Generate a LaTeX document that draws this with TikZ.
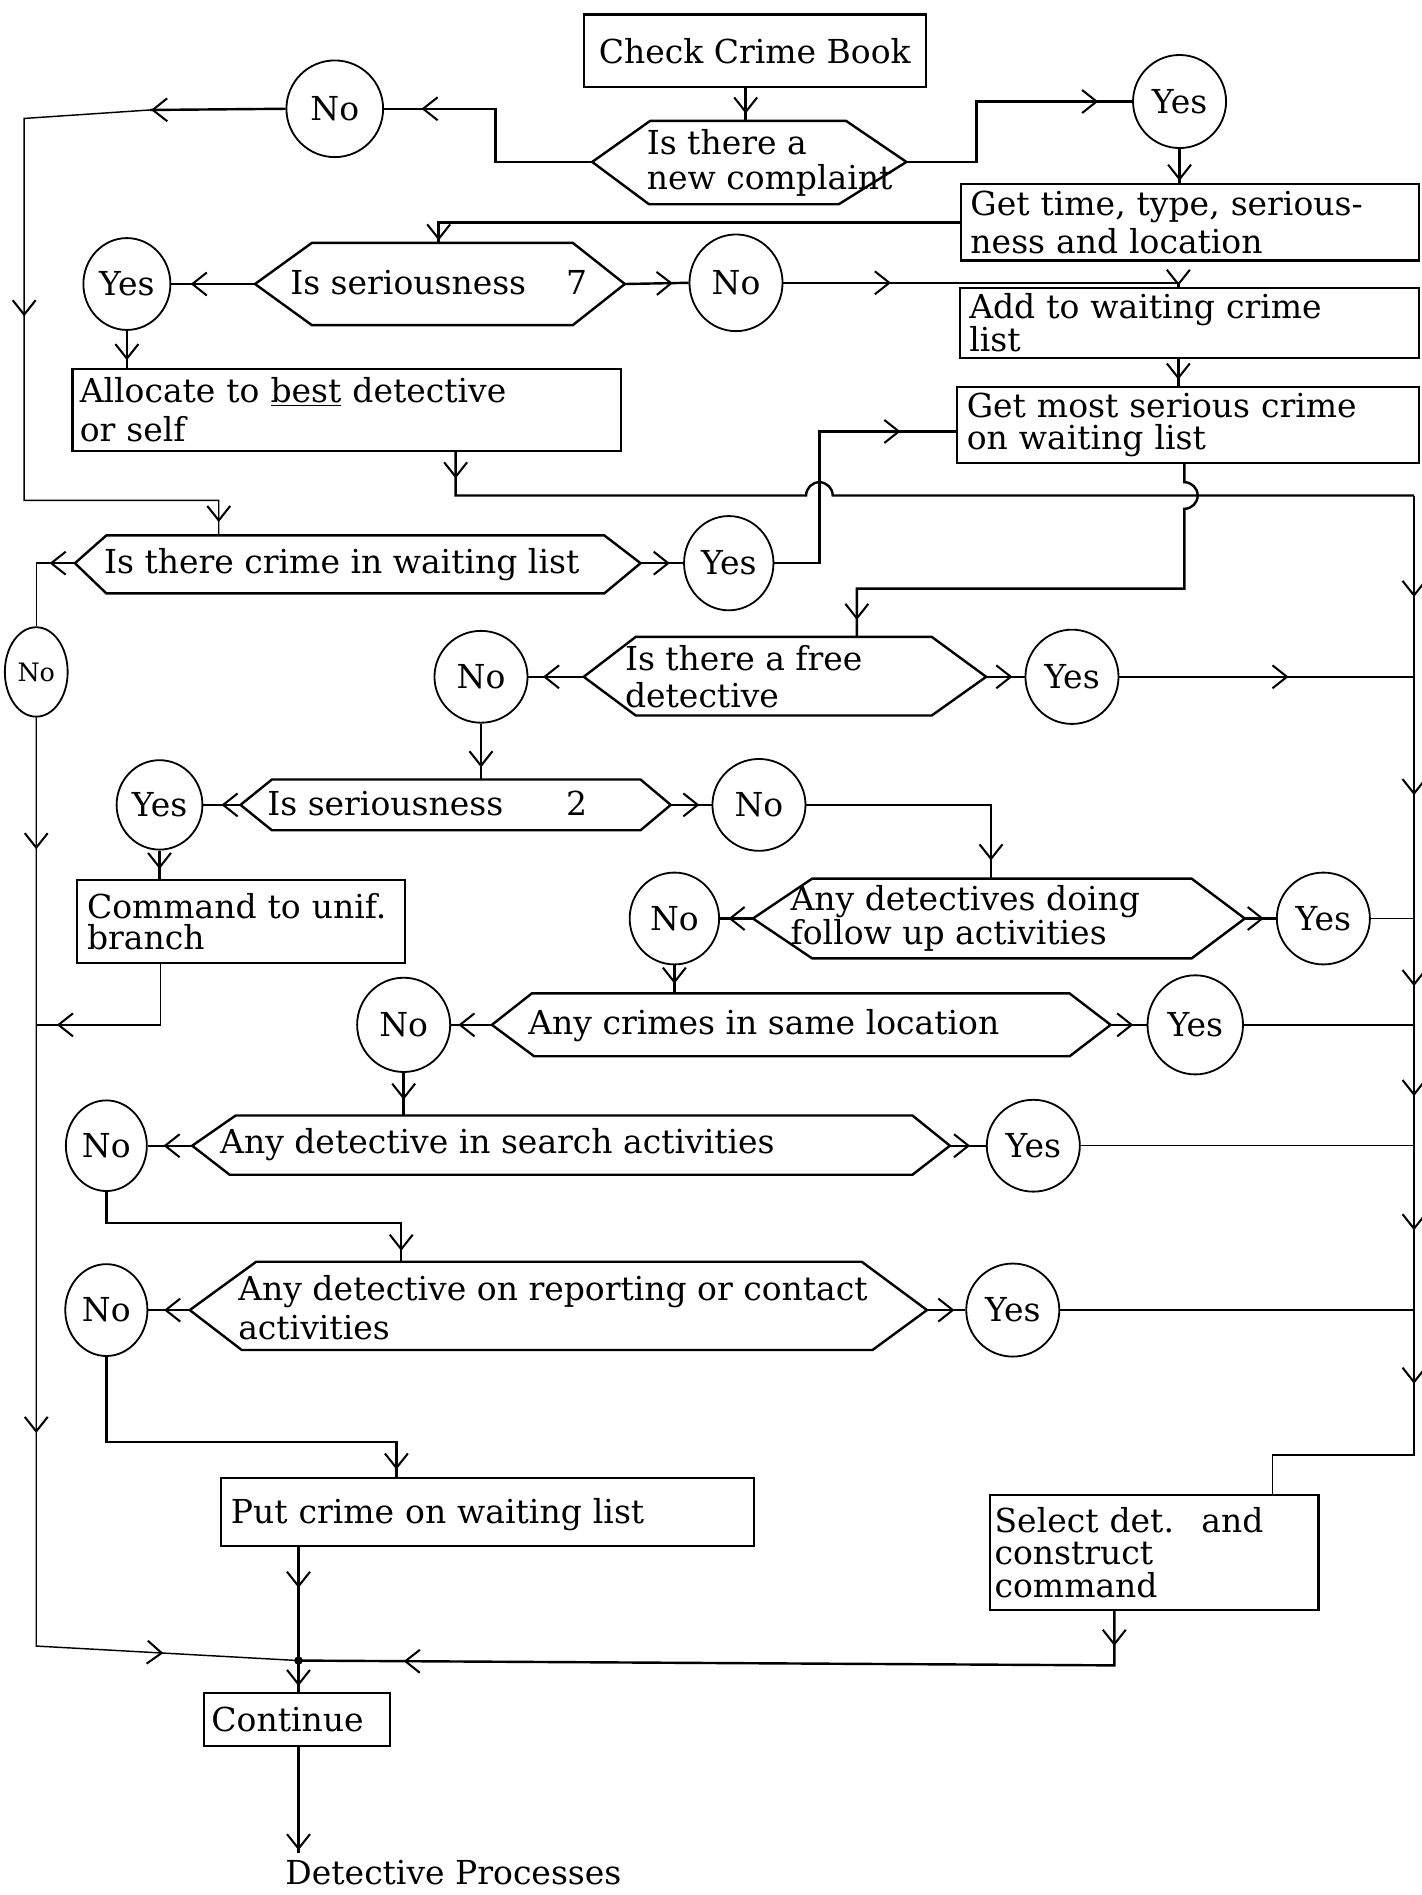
\documentclass[tikz,border=0pt]{standalone}
\usepackage{fontspec}
\setmainfont{DejaVu Serif}
\usetikzlibrary{shapes.geometric,arrows.meta,decorations.markings}
\newcommand\chartfont{\fontsize{27.3}{30}\selectfont}
\newcommand\skipfont[1]{\fontsize{27.3}{#1}\selectfont}
\begin{document}
\begin{tikzpicture}[x=1pt,y=-1pt,
  every node/.style={font=\chartfont, inner sep=0pt},
  conn/.style={line width=2pt},
  bus/.style={line width=1.2pt},
  box/.style={draw, line width=1.8pt, align=left, inner xsep=8pt},
  hexa/.style={draw, line width=2pt},
  ans/.style={ellipse, draw, line width=1.5pt, minimum width=77pt, minimum height=77pt},
  arrowat/.style={postaction={decorate,decoration={markings,
      mark=at position #1 with {\arrow{Straight Barb[length=12pt,width=19pt,line width=1.7pt]}}}}},
]
\fill[white] (0,0) rectangle (1176,1568);
\useasboundingbox (0,0) rectangle (1176,1568);

% ---------- process boxes ----------
\node[box, align=center, minimum width=283pt, minimum height=60pt] (cb) at (624.5,42) {Check Crime Book};
\node[box, text width=363pt, minimum height=63pt, font=\skipfont{32}] (gt) at (984.5,184) {Get time, type, serious-\\ness and location};
\node[box, text width=364pt, minimum height=58pt, font=\skipfont{28}] (aw) at (984,267) {Add to waiting crime\\list};
\node[box, text width=366pt, minimum height=63pt, font=\skipfont{26}] (gm) at (983,351.5) {Get most serious crime\\on waiting list};
\node[box, text width=442pt, minimum height=68pt, inner xsep=6pt, font=\skipfont{32}] (al) at (287,339) {Allocate to \underline{best} detective\\or self};
\node[box, text width=255pt, minimum height=69pt, font=\skipfont{26}] (cu) at (199.5,762.5) {Command to unif.\\branch};
\node[box, text width=425pt, minimum height=56pt, text depth=2pt] (pc) at (403.5,1251) {Put crime on waiting list};
\node[box, text width=264pt, minimum height=95pt, inner xsep=4pt, font=\skipfont{27}] (sd) at (955,1284.5) {Select det.~ and\\construct\\command};
\node[box, text width=142pt, minimum height=44pt, inner xsep=6pt] (co) at (246,1423) {Continue};
\node[anchor=mid west] (dp) at (236,1557) {Detective Processes};

% ---------- decisions ----------
\draw[hexa] (538,100) -- (700,100) -- (750,134) coordinate (q1e) -- (694,169) -- (537,169) -- (490,134) coordinate (q1w) -- cycle;
\node[anchor=west, align=left, font=\skipfont{29}] (q1t) at (535,135) {Is there a\\new complaint};
\coordinate (q1n) at (617,100);

\draw[hexa] (258,201) -- (474,201) -- (517,235) coordinate (s7e) -- (474,269) -- (258,269) -- (211,235) coordinate (s7w) -- cycle;
\node[anchor=mid west] (s7t) at (240,241) {Is seriousness\hspace{33pt}7};
\coordinate (s7n) at (363,201);

\draw[hexa] (88,443) -- (500,443) -- (530,466) coordinate (wle) -- (500,491) -- (88,491) -- (62,466) coordinate (wlw) -- cycle;
\node[anchor=mid west] (wlt) at (86,472) {Is there crime in waiting list};
\coordinate (wln) at (181,443);

\draw[hexa] (526,527) -- (771,527) -- (816,560) coordinate (fde) -- (771,592) -- (526,592) -- (483,560) coordinate (fdw) -- cycle;
\node[anchor=west, align=left, font=\skipfont{30}] (fdt) at (517,560) {Is there a free\\detective};
\coordinate (fdn) at (709,527);

\draw[hexa] (225,645) -- (530,645) -- (555,666) coordinate (s2e) -- (530,687) -- (225,687) -- (199,666) coordinate (s2w) -- cycle;
\node[anchor=mid west] (s2t) at (221,672) {Is seriousness\hspace{52pt}2};
\coordinate (s2n) at (398,645);

\draw[hexa] (672,727) -- (986,727) -- (1030,760) coordinate (fue) -- (986,793) -- (672,793) -- (623,760) coordinate (fuw) -- cycle;
\node[anchor=west, align=left, font=\skipfont{25}] (fut) at (654,760) {Any detectives doing\\follow up activities};
\coordinate (fun) at (820,727);

\draw[hexa] (440,822) -- (885,822) -- (919,848) coordinate (sle) -- (885,874) -- (442,874) -- (407,848) coordinate (slw) -- cycle;
\node[anchor=mid west] (slt) at (437,853) {Any crimes in same location};
\coordinate (sln) at (558,822);

\draw[hexa] (195,923) -- (755,923) -- (786,948) coordinate (sae) -- (755,972) -- (190,972) -- (159,948) coordinate (saw) -- cycle;
\node[anchor=mid west] (sat) at (182,952) {Any detective in search activities};
\coordinate (san) at (334,923);

\draw[hexa] (212,1044) -- (713,1044) -- (767,1084) coordinate (rpe) -- (722,1117) -- (200,1117) -- (157,1084) coordinate (rpw) -- cycle;
\node[anchor=west, align=left, font=\skipfont{32}] (rpt) at (197,1082) {Any detective on reporting or contact\\activities};
\coordinate (rpn) at (332,1044);

% ---------- answers ----------
\node[ans, minimum width=80pt, minimum height=80pt] (no1) at (277,90) {No};
\node[ans] (yes1) at (976,84) {Yes};
\node[ans, minimum width=72pt, minimum height=76pt] (y7) at (105,235) {Yes};
\node[ans, minimum height=80pt] (n7) at (609,234) {No};
\node[ans, minimum width=74pt, minimum height=78pt] (ywl) at (603,466) {Yes};
\node[ans, minimum width=52pt, minimum height=74pt, font=\fontsize{21}{24}\selectfont] (nwl) at (30,556) {No};
\node[ans, minimum height=76pt] (nfd) at (398,560) {No};
\node[ans, minimum height=78pt] (yfd) at (887,560) {Yes};
\node[ans, minimum width=71pt, minimum height=74pt] (ys2) at (132,666) {Yes};
\node[ans, minimum height=76pt] (ns2) at (628,666) {No};
\node[ans, minimum width=74pt, minimum height=76pt] (nfu) at (558,760) {No};
\node[ans, minimum height=76pt] (yfu) at (1095,760) {Yes};
\node[ans, minimum height=78pt] (nsl) at (334,848) {No};
\node[ans, minimum width=79pt, minimum height=82pt] (ysl) at (989,848) {Yes};
\node[ans, minimum width=67pt, minimum height=75pt] (nsa) at (88,948) {No};
\node[ans, minimum height=76pt] (ysa) at (855,948) {Yes};
\node[ans, minimum width=68pt, minimum height=76pt] (nrp) at (88,1084) {No};
\node[ans] (yrp) at (838,1084) {Yes};

% ---------- turning points ----------
\coordinate (tl1) at (124,91);
\coordinate (c1) at (975,234);
\coordinate (c2) at (678,357);
\coordinate (c3) at (377,410);
\coordinate (rb) at (1170,410);
\coordinate (c4) at (980,487);
\coordinate (lb) at (30,466);
\coordinate (c5) at (133,848);
\coordinate (c6) at (88,1012);
\coordinate (c7) at (88,1193);
\coordinate (pcn) at (328,1223);
\coordinate (rbb) at (1170,1204);
\coordinate (c8) at (1053,1204);
\coordinate (c9) at (922,1378);
\coordinate (jn) at (247,1374);
\coordinate (dpa) at (247,1533);

% ---------- connectors ----------
\draw[conn, arrowat=-6pt] (q1n |- cb.south) -- (q1n);
\draw[conn, arrowat=-31pt] (q1w) -- (410,134) -- (410,90) -- (no1.east);
\draw[conn, arrowat=-1pt] (no1.west) -- (tl1);
\draw[bus, arrowat=268pt, arrowat=-11pt] (tl1) -- (20,98) -- (20,414) -- (wln |- 0,414) -- (wln);
\draw[conn, arrowat=-28pt] (q1e) -- (808,134) -- (808,84) -- (yes1.west);
\draw[conn, arrowat=-2pt] (yes1) -- (yes1 |- gt.north);
\draw[conn, arrowat=-2pt] (gt.west) -| (s7n);
\draw[conn, arrowat=-16pt] (s7w) -- (y7.east);
\draw[conn, arrowat=-13pt] (s7e) -- (n7.west);
\draw[conn, arrowat=-6pt] (y7) -- (y7 |- al.north);
\draw[conn, arrowat=89pt, arrowat=-0.5pt] (n7.east) -- (c1) -- (c1 |- aw.north);
\draw[conn, arrowat=-5pt] (aw.south -| c1) -- (gm.north -| c1);
\draw[conn, arrowat=-11pt] (wle) -- (ywl.west);
\draw[conn, arrowat=-46pt] (ywl.east) -| (c2) -- (c2 -| gm.west);
\draw[conn, arrowat=22pt] (al.south -| c3) -- (c3) -- (667,410) arc[start angle=180,end angle=360,radius=11] -- (rb);
\draw[conn, arrowat=-14pt] (gm.south -| c4) -- (980,399) arc[start angle=270,end angle=450,radius=11] -- (c4) -| (fdn);
\draw[bus, arrowat=21pt] (wlw) -- (lb) -- (nwl.north);
\draw[bus, arrowat=109pt, arrowat=592pt, arrowat=-112pt] (nwl.south) -- (30,1362) -- (jn);
\draw[conn, arrowat=-12pt] (fdw) -- (nfd.east);
\draw[conn, arrowat=-10pt] (fde) -- (yfd.west);
\draw[bus, arrowat=140pt] (yfd.east) -- (yfd.east -| rb);
\draw[conn, arrowat=-10pt] (nfd) -- (nfd |- s2n);
\draw[conn, arrowat=-15pt] (s2w) -- (ys2.east);
\draw[conn, arrowat=-10pt] (s2e) -- (ns2.west);
\draw[conn, arrowat=-8pt] (ys2) -- (ys2 |- cu.north);
\draw[bus, arrowat=-17pt] (cu.south -| c5) -- (c5) -- (c5 -| lb);
\draw[conn, arrowat=-15pt] (ns2.east) -| (fun);
\draw[conn, arrowat=-7pt] (fuw) -- (nfu.east);
\draw[conn, arrowat=-10pt] (fue) -- (yfu.west);
\draw[bus] (yfu.east) -- (yfu.east -| rb);
\draw[conn, arrowat=-8pt] (nfu) -- (nfu |- sln);
\draw[conn, arrowat=-6pt] (slw) -- (nsl.east);
\draw[conn, arrowat=-11pt] (sle) -- (ysl.west);
\draw[bus] (ysl.east) -- (ysl.east -| rb);
\draw[conn, arrowat=-13pt] (nsl) -- (nsl |- san);
\draw[conn, arrowat=-13pt] (saw) -- (nsa.east);
\draw[conn, arrowat=-13pt] (sae) -- (ysa.west);
\draw[bus] (ysa.east) -- (ysa.east -| rb);
\draw[conn, arrowat=-9pt] (nsa) -- (c6) -| (rpn);
\draw[conn, arrowat=-13pt] (rpw) -- (nrp.east);
\draw[conn, arrowat=-9pt] (rpe) -- (yrp.west);
\draw[bus] (yrp.east) -- (yrp.east -| rb);
\draw[conn, arrowat=-7pt] (nrp) -- (c7) -| (pcn);
\draw[bus, arrowat=84pt, arrowat=248pt, arrowat=406pt, arrowat=497pt, arrowat=608pt, arrowat=735pt]
  (rb) -- (rbb) -- (c8) -- (c8 |- sd.north);
\draw[conn, arrowat=29pt, arrowat=-87pt] (sd.south -| c9) -- (c9) -- (jn);
\draw[conn, arrowat=34pt] (pc.south -| jn) -- (jn);
\fill (jn) circle (3.5pt);
\draw[conn, arrowat=-5pt] (jn) -- (jn |- co.north);
\draw[conn, arrowat=-2pt] (co.south -| dpa) -- (dpa);
\end{tikzpicture}
\end{document}
